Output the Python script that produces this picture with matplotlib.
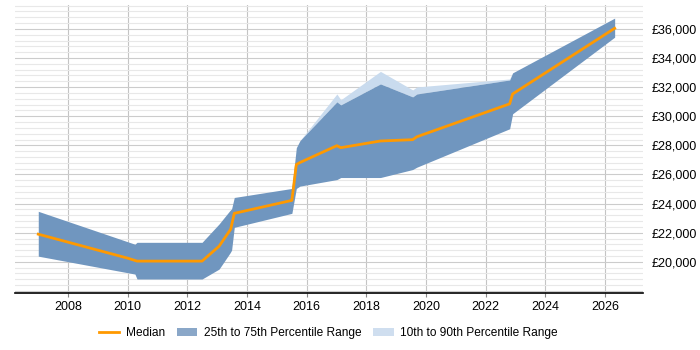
import matplotlib
matplotlib.use("Agg")
import matplotlib.pyplot as plt
from matplotlib.ticker import MultipleLocator, FuncFormatter
from matplotlib.patches import Patch
from matplotlib.lines import Line2D

plt.rcParams['font.family'] = ['Liberation Sans', 'DejaVu Sans']

# Median series
med_x = [2007.0, 2010.0, 2010.31, 2012.49, 2013.06, 2013.45, 2013.57, 2015.5, 2015.65, 2015.77,
         2017.01, 2017.14, 2018.47, 2019.55, 2019.69, 2022.8, 2022.9, 2026.32]
med_y = [21900, 20250, 20050, 20050, 21070, 22240, 23330, 24220, 26680, 26820,
         27980, 27840, 28300, 28390, 28590, 30850, 31530, 36040]

# 25th / 75th percentile
q_x = [2007.0, 2010.24, 2010.31, 2012.49, 2013.06, 2013.43, 2013.48, 2013.57, 2015.5, 2015.65, 2015.77,
       2017.01, 2017.14, 2018.47, 2019.55, 2019.69, 2022.8, 2022.9, 2026.32]
p75 = [23470, 21210, 21340, 21340, 22600, 23540, 23640, 24420, 25040, 27840, 28320,
       30990, 30780, 32220, 31330, 31530, 32490, 32980, 36740]
p25 = [20390, 19160, 18820, 18820, 19500, 20620, 20800, 22370, 23330, 25040, 25200,
       25650, 25790, 25790, 26340, 26500, 29140, 30170, 35430]

# 10th / 90th percentile
p90 = [23470, 21210, 21340, 21340, 22600, 23540, 23640, 24420, 25040, 27840, 28320,
       31530, 31130, 33080, 31810, 32010, 32560, 32980, 36740]
p10 = p25

fig = plt.figure(figsize=(7, 3.5), dpi=100)
ax = fig.add_axes([15/700, 1-292.7/350, (643-15)/700, (292.7-5)/350])

dark = '#7096bf'
light = '#c9dbee'
ax.fill_between(q_x, p75, p90, color=light, lw=0, zorder=2)
ax.fill_between(q_x, p10, p25, color=light, lw=0, zorder=2)
ax.fill_between(q_x, p25, p75, color=dark, lw=0, zorder=3)
ax.plot(med_x, med_y, color='#ff9900', lw=2, zorder=4)

ax.set_xlim(2006.22, 2027.27)
ax.set_ylim(17880, 37640)
ax.xaxis.set_major_locator(MultipleLocator(2))
ax.yaxis.set_major_locator(MultipleLocator(2000))
ax.yaxis.set_minor_locator(MultipleLocator(400))
ax.yaxis.set_major_formatter(FuncFormatter(lambda v, p: f'£{int(v):,}' if v >= 20000 else ''))
ax.yaxis.tick_right()
ax.grid(axis='x', which='major', color='#c4c4c4', lw=0.8, zorder=1)
ax.grid(axis='y', which='major', color='#cccccc', lw=0.8, zorder=1)
ax.grid(axis='y', which='minor', color='#e8e8e8', lw=0.8, zorder=1)
ax.set_axisbelow(True)
for s in ['left', 'right', 'top']:
    ax.spines[s].set_visible(False)
ax.spines['bottom'].set_color('black')
ax.spines['bottom'].set_linewidth(1.2)
ax.tick_params(axis='y', which='both', length=0, labelsize=9, pad=6)
ax.tick_params(axis='x', length=3, color='#888888', labelsize=9, pad=3)

handles = [Line2D([0], [0], color='#ff9900', lw=2),
           Patch(facecolor='#8aa7c8', edgecolor='none'),
           Patch(facecolor='#cfdeef', edgecolor='none')]
labels = ['Median', '25th to 75th Percentile Range', '10th to 90th Percentile Range']
fig.legend(handles, labels, loc='center', bbox_to_anchor=(0.469, 1-333/350), ncol=3,
           frameon=False, fontsize=8.6, handlelength=1.7, handletextpad=0.55, columnspacing=1.0)

fig.savefig('out.png', dpi=100)
